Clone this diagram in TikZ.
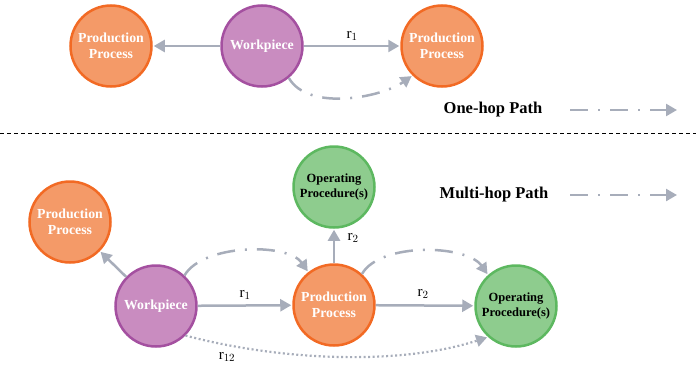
\documentclass[tikz,border=0pt]{standalone}
\usepackage{fontspec}
\setmainfont{Liberation Serif}
\usetikzlibrary{arrows.meta}
\definecolor{orfill}{HTML}{F49A68}
\definecolor{ordraw}{HTML}{F26A24}
\definecolor{pufill}{HTML}{C98CC0}
\definecolor{pudraw}{HTML}{A450A0}
\definecolor{grfill}{HTML}{8ECC8E}
\definecolor{grdraw}{HTML}{5DB860}
\definecolor{arr}{HTML}{A7ADBA}
\tikzset{
  base/.style={circle, minimum size=81pt, inner sep=0pt, line width=2.5pt, align=center, font=\bfseries\fontsize{13.8}{16}\selectfont},
  proc/.style={base, fill=orfill, draw=ordraw, text=white},
  work/.style={base, fill=pufill, draw=pudraw, text=white},
  oper/.style={base, fill=grfill, draw=grdraw, text=black, font=\bfseries\fontsize{12.5}{15.5}\selectfont},
  link/.style={draw=arr, line width=2.5pt, -{Triangle[length=11pt,width=12pt]}, shorten >=1pt},
  hop/.style={link, dash pattern=on 18pt off 10pt on 2pt off 10pt},
  dotl/.style={link, dash pattern=on 2pt off 2.5pt, line width=2.2pt},
  rlab/.style={font=\fontsize{15}{17}\selectfont},
  legend/.style={font=\bfseries\fontsize{16.5}{18}\selectfont}
}
\begin{document}
\begin{tikzpicture}[x=1pt,y=-1pt]
\useasboundingbox (0,0) rectangle (696,367);
% top
\node[proc] (pp1) at (111,46) {Production\\Process};
\node[work] (wp1) at (262,46) {Workpiece};
\node[proc] (pp2) at (442,46) {Production\\Process};
\draw[link] (wp1) -- (pp1);
\draw[link] (wp1) -- node[rlab, above=1pt] (r1a) {r$_1$} (pp2);
\draw[hop] (wp1.-50) to[out=-60, in=-145, looseness=0.8] (pp2.-135);
% legend
\node[legend] (l1) at (493,110) {One-hop Path};
\coordinate (l1a) at (570,110);
\coordinate (l1b) at (678,110);
\draw[hop] (l1a) -- (l1b);
\draw[black, line width=1pt, dash pattern=on 4pt off 3pt] (0,133) -- (696,133);
\node[legend] (l2) at (494,195) {Multi-hop Path};
\coordinate (l2a) at (570,195);
\coordinate (l2b) at (678,195);
\draw[hop] (l2a) -- (l2b);
% bottom
\node[proc] (ppl) at (70,222) {Production\\Process};
\node[work] (wp2) at (156,306) {Workpiece};
\node[proc] (ppm) at (334,305) {Production\\Process};
\node[oper] (opt) at (334,187) {Operating\\Procedure(s)};
\node[oper] (opr) at (516,306) {Operating\\Procedure(s)};
\draw[link] (wp2) -- (ppl);
\draw[link] (wp2) -- node[rlab, above=1pt] (r1b) {r$_1$} (ppm);
\draw[link] (ppm) -- (opr);
\node[rlab] (r2b) at (423,294) {r$_2$};
\draw[link] (ppm) -- (opt);
\node[rlab] (r2a) at (353,238) {r$_2$};
\draw[hop] (wp2.47) to[out=60, in=125, looseness=0.75] (ppm.128);
\draw[hop] (ppm.48) to[out=60, in=125, looseness=0.75] (opr.132);
\draw[dotl] (wp2.-45) to[out=-15, in=-162, looseness=0.8] (opr.-132);
\node[rlab] (r12) at (227,357) {r$_{12}$};
\end{tikzpicture}
\end{document}
